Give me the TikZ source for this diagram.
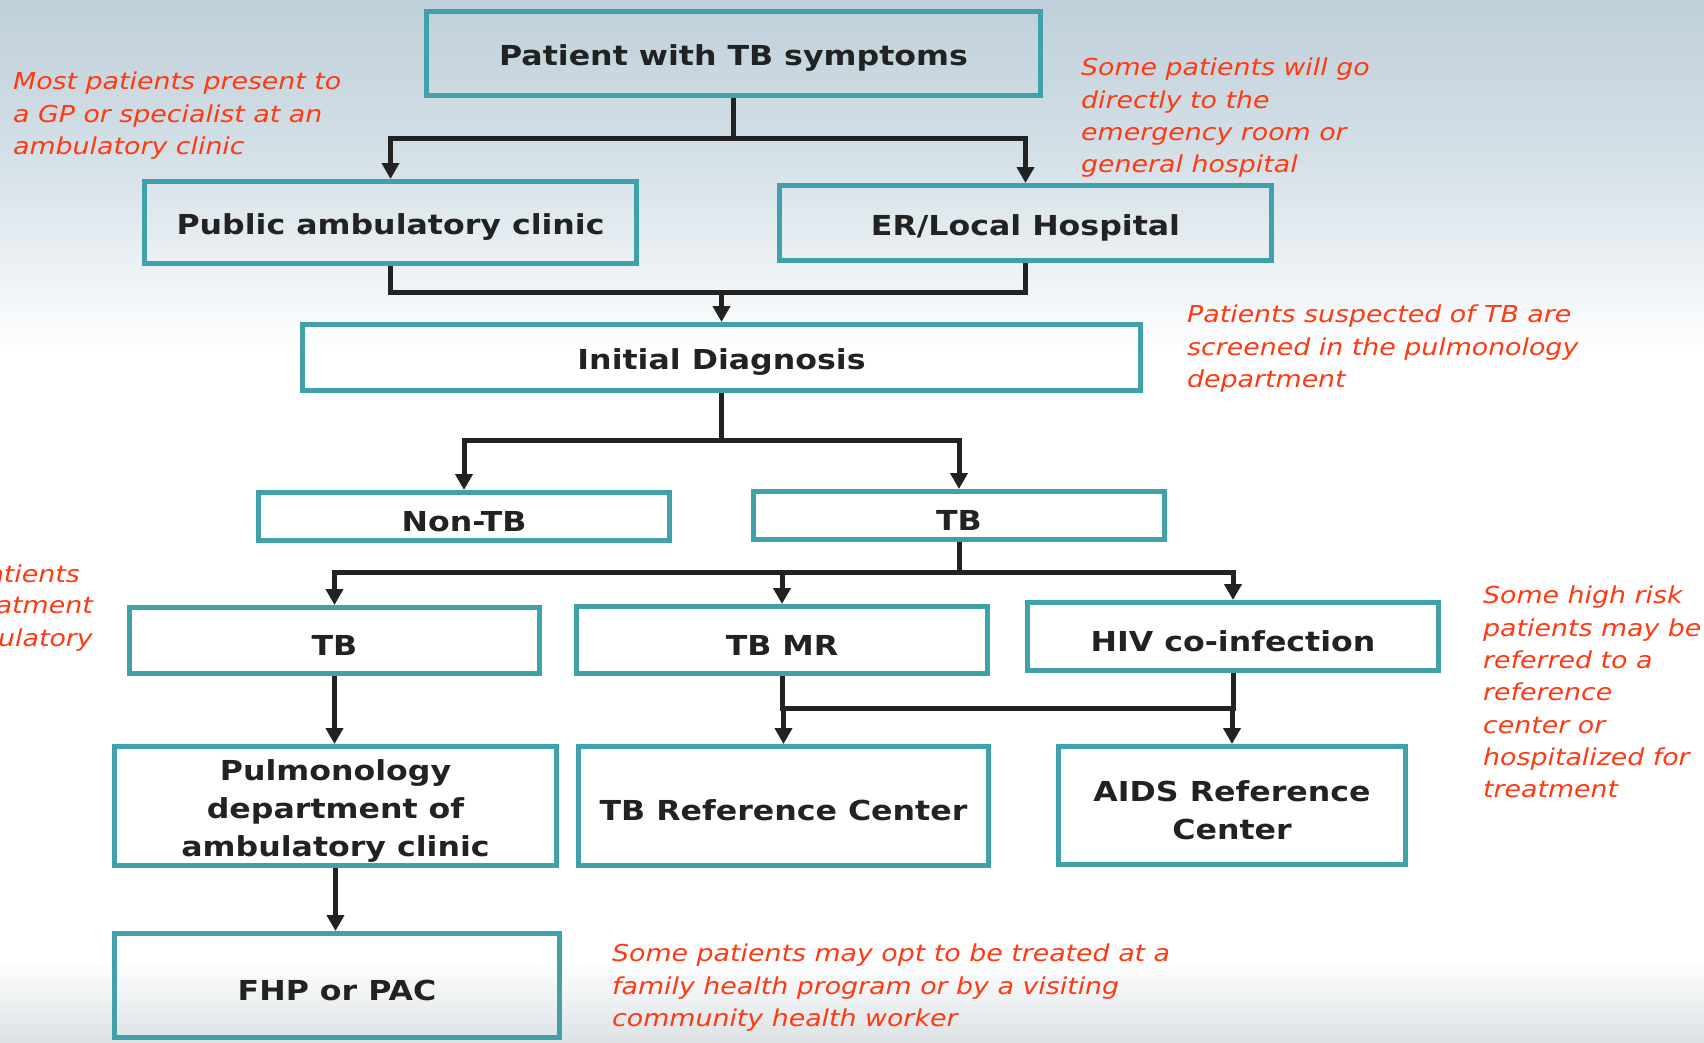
\documentclass[tikz,border=0pt]{standalone}
\usepackage{fontspec}
\setmainfont{DejaVu Sans}[FakeStretch=1.15]
\usetikzlibrary{arrows.meta,calc}

\definecolor{boxteal}{HTML}{3FA1A9}
\definecolor{inkdark}{HTML}{222222}
\definecolor{notered}{HTML}{FF3A12}
\definecolor{bgtop}{HTML}{BFCFD9}
\definecolor{bgmid}{HTML}{D6E1E8}
\definecolor{bgbot}{HTML}{DDE2E5}

% soft sky-like backdrop: blue-grey at the top, white in the middle, grey at the foot
\pgfdeclareverticalshading{backdrop}{100bp}{%
  color(0bp)=(bgbot); color(25bp)=(bgbot); color(29bp)=(white);
  color(58bp)=(white); color(67bp)=(bgmid); color(75bp)=(bgtop); color(100bp)=(bgtop)}

% taller first line, so that box labels sit a little lower
\newcommand{\firstlift}{\rule{0pt}{30pt}}

\tikzset{
  stage/.style={draw=boxteal, line width=5pt, text=inkdark, align=center,
    inner sep=0pt, font=\fontsize{27.5}{38}\selectfont\bfseries,
    execute at begin node={\firstlift}},
  note/.style={text=notered, align=left, anchor=north west, inner sep=0pt,
    font=\fontsize{23.3}{32.3}\selectfont\itshape},
  link/.style={draw=inkdark, line width=5pt},
  flow/.style={link, -{Triangle[length=16pt,width=17pt]}},
}

\begin{document}
\begin{tikzpicture}[x=1pt, y=-1pt]
  \shade[shading=backdrop] (0,0) rectangle (1704,1042);
  \useasboundingbox (0,0) rectangle (1704,1042);

  % stages of the pathway
  \node[stage, minimum width=614, minimum height=84] (pat) at (733.5,53.5) {Patient with TB symptoms};
  \node[stage, minimum width=492, minimum height=82] (pub) at (390.5,222.5) {Public ambulatory clinic};
  \node[stage, minimum width=492, minimum height=75] (er) at (1025.5,223) {ER/Local Hospital};
  \node[stage, minimum width=838, minimum height=66] (dx) at (721.5,357.5) {Initial Diagnosis};
  \node[stage, minimum width=411, minimum height=48] (ntb) at (464,516.5) {Non-TB};
  \node[stage, minimum width=411, minimum height=48] (tb) at (959,515.5) {TB};
  \node[stage, minimum width=410, minimum height=66] (tbc) at (334.5,640.5) {TB};
  \node[stage, minimum width=411, minimum height=67] (mr) at (782,640) {TB MR};
  \node[stage, minimum width=411, minimum height=68] (hiv) at (1233,636.5) {HIV co-infection};
  \node[stage, minimum width=442, minimum height=119] (pulm) at (335.5,806) {\firstlift Pulmonology\\department of\\ambulatory clinic};
  \node[stage, minimum width=410, minimum height=119] (tbref) at (783.5,806) {TB Reference Center};
  \node[stage, minimum width=347, minimum height=118] (aids) at (1232,805.5) {\firstlift AIDS Reference\\Center};
  \node[stage, minimum width=445, minimum height=104] (fhp) at (337,985.5) {FHP or PAC};

  % connectors
  \draw[link] (pat.south) -- ++(0,40) coordinate (j1);
  \draw[flow] (j1) -| (pub.north);
  \draw[flow] (j1) -| (er.north);

  \draw[link] (pub.south) -- ++(0,26) coordinate (j2) -| (er.south);
  \draw[flow] (dx.north |- j2) -- (dx.north);

  \draw[link] (dx.south) -- ++(0,47) coordinate (j3);
  \draw[flow] (j3) -| (ntb.north);
  \draw[flow] (j3) -| (tb.north);

  \draw[link] (tb.south) -- ++(0,30) coordinate (j4);
  \draw[flow] (j4) -| (tbc.north);
  \draw[flow] (j4) -| (hiv.north);
  \draw[flow] (mr.north |- j4) -- (mr.north);

  \draw[flow] (tbc.south) -- (tbc.south |- pulm.north);
  \draw[link] (mr.south) -- ++(0,32) coordinate (j5) -| (hiv.south);
  \draw[flow] (tbref.north |- j5) -- (tbref.north);
  \draw[flow] (aids.north |- j5) -- (aids.north);
  \draw[flow] (pulm.south) -- (pulm.south |- fhp.north);

  % side remarks
  \node[note] (n1) at (13,72) {Most patients present to\\a GP or specialist at an\\ambulatory clinic};
  \node[note] (n2) at (1081,58) {Some patients will go\\directly to the\\emergency room or\\general hospital};
  \node[note] (n3) at (1187,305) {Patients suspected of TB are\\screened in the pulmonology\\department};
  \node[note, anchor=north east] (n4a) at (80,565) {patients};
  \node[note, anchor=north east] (n4b) at (93,597) {treatment};
  \node[note, anchor=north east] (n4c) at (93,629) {ambulatory};
  \node[note] (n5) at (1483,586) {Some high risk\\patients may be\\referred to a\\reference\\center or\\hospitalized for\\treatment};
  \node[note] (n6) at (612,944) {Some patients may opt to be treated at a\\family health program or by a visiting\\community health worker};
\end{tikzpicture}
\end{document}
